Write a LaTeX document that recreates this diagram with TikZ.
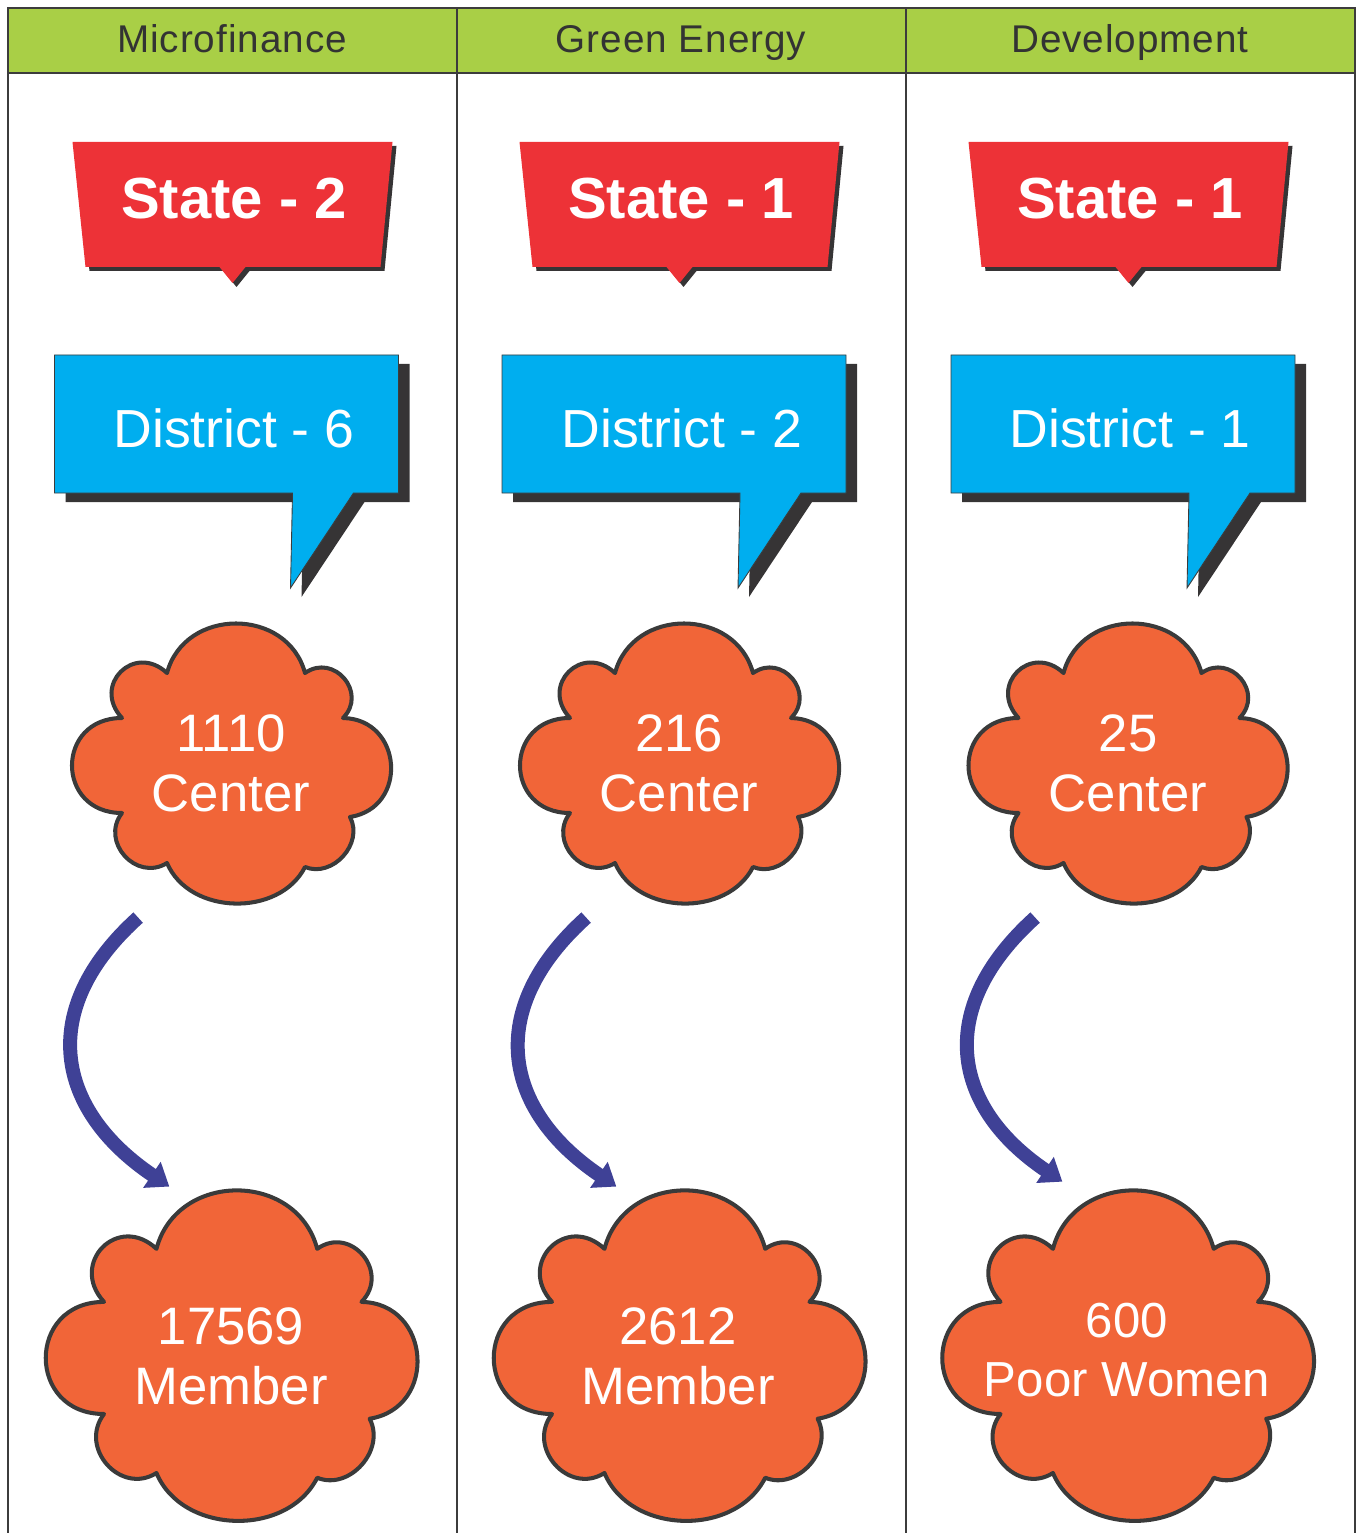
\documentclass[tikz,border=0pt]{standalone}
\usepackage{fontspec}
\setmainfont{Liberation Sans}
\newfontfamily\headfont[LetterSpace=2.5]{Liberation Sans}
\usetikzlibrary{arrows.meta}

\definecolor{headgreen}{RGB}{169,207,70}
\definecolor{framegray}{RGB}{60,60,60}
\definecolor{headgray}{RGB}{51,51,51}
\definecolor{statered}{RGB}{237,50,55}
\definecolor{shadowgray}{RGB}{54,52,53}
\definecolor{distblue}{RGB}{0,174,239}
\definecolor{cloudorange}{RGB}{241,101,56}
\definecolor{cloudedge}{RGB}{58,58,58}
\definecolor{flowblue}{RGB}{63,65,150}

\begin{document}
\begin{tikzpicture}[
    x=0.02cm, y=0.02cm,
    frameline/.style={draw=framegray, line width=1pt},
    headtext/.style={anchor=base, inner sep=0pt, text=headgray, font=\headfont\fontsize{22pt}{26pt}\selectfont},
    statetext/.style={inner sep=0pt, text=white, font=\fontsize{33pt}{38pt}\selectfont\bfseries},
    disttext/.style={inner sep=0pt, text=white, font=\fontsize{30.5pt}{36pt}\selectfont},
    cloudtext/.style={circle, minimum size=7.2cm, inner sep=0pt, align=center, text=white, font=\fontsize{30pt}{34pt}\selectfont},
    flow/.style={draw=flowblue, line width=0.28cm, -{Triangle[length=0.42cm, width=0.6cm]}},
    pics/banner/.style={code={
        \foreach \clr/\dx/\dy in {shadowgray/4/-4, statered/0/0}
            \fill[\clr, shift={(\dx,\dy)}] (-160,57) -- (160,57) -- (148,-68) -- (13,-68) -- (0,-84) -- (-13,-68) -- (-147,-68) -- cycle;
    }},
    pics/bubble/.style={code={
        \fill[shadowgray, shift={(11,-9)}] (-172,69) -- (172,69) -- (172,-69) -- (127,-69) -- (64,-164) -- (66,-69) -- (-172,-69) -- cycle;
        \filldraw[fill=distblue, draw=framegray, line width=0.5pt] (-172,69) -- (172,69) -- (172,-69) -- (127,-69) -- (64,-164) -- (66,-69) -- (-172,-69) -- cycle;
    }},
    pics/blob/.style={code={
        \filldraw[fill=cloudorange, draw=cloudedge, line width=2.3pt, line join=round]
            (-64,90) to[out=75, in=105, looseness=1.27] (74,90)
            to[out=35, in=45, looseness=1.54] (112,45)
            to[out=-1, in=9, looseness=1.54] (119,-54)
            to[out=-62, in=-22, looseness=1.14] (74,-104)
            to[out=243, in=293, looseness=1.05] (-64,-100)
            to[out=212, in=232, looseness=1.38] (-109,-50)
            to[out=180, in=180, looseness=1.8] (-109,45)
            to[out=133, in=137, looseness=1.8] (-64,90) -- cycle;
    }}
]
\useasboundingbox (0,0) rectangle (1356,-1533);

% Table frame
\fill[headgreen] (8,-8) rectangle (1355,-73);
\draw[frameline] (8,-1533) -- (8,-8) -- (1355,-8) -- (1355,-1533);
\draw[frameline] (8,-73) -- (1355,-73);
\draw[frameline] (457,-8) -- (457,-1533);
\draw[frameline] (906,-8) -- (906,-1533);

% Headers
\node[headtext] (head1) at (232,-53) {Microfinance};
\node[headtext] (head2) at (681,-53) {Green Energy};
\node[headtext] (head3) at (1130,-53) {Development};

% States
\pic at (232.5,-199) {banner};
\pic at (679.5,-199) {banner};
\pic at (1128.5,-199) {banner};
\node[statetext] (st1) at (234,-199) {State - 2};
\node[statetext] (st2) at (681,-199) {State - 1};
\node[statetext] (st3) at (1130,-199) {State - 1};

% Districts
\pic at (226.5,-424) {bubble};
\pic at (674,-424) {bubble};
\pic at (1123,-424) {bubble};
\node[disttext] (dist1) at (234,-428) {District - 6};
\node[disttext] (dist2) at (682,-428) {District - 2};
\node[disttext] (dist3) at (1130,-428) {District - 1};

% Centers
\pic at (231,-763) {blob};
\pic at (679,-763) {blob};
\pic at (1127.5,-763) {blob};
\node[cloudtext] (ctr1) at (231,-763) {1110\\Center};
\node[cloudtext] (ctr2) at (679,-763) {216\\Center};
\node[cloudtext] (ctr3) at (1128,-763) {25\\Center};

% Members
\pic[xscale=1.165, yscale=1.18] at (231,-1355) {blob};
\pic[xscale=1.165, yscale=1.18] at (679,-1355) {blob};
\pic[xscale=1.165, yscale=1.18] at (1127.5,-1355) {blob};
\node[cloudtext] (mem1) at (231,-1356) {17569\\Member};
\node[cloudtext] (mem2) at (678,-1356) {2612\\Member};
\node[cloudtext, font=\fontsize{28pt}{34pt}\selectfont] (mem3) at (1127,-1350) {600\\Poor Women};

% Arrows
\draw[flow] (ctr1.239) to[out=222, in=146, looseness=1.3] (mem1.110);
\draw[flow] (ctr2.239) to[out=222, in=146, looseness=1.3] (mem2.110);
\draw[flow] (ctr3.239) to[out=222, in=146, looseness=1.3] (mem3.111);

\end{tikzpicture}
\end{document}
